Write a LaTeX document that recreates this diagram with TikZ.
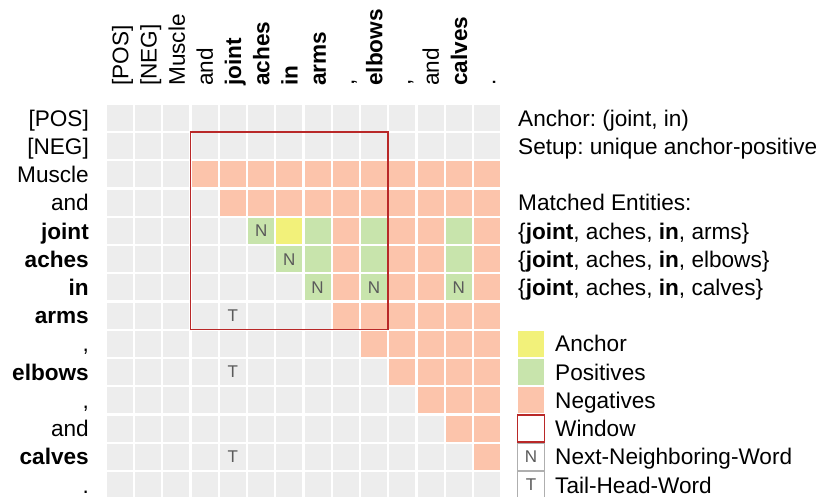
\documentclass[tikz,border=0pt]{standalone}
\usepackage{fontspec}
\setmainfont{Liberation Sans}
\usetikzlibrary{calc}
\definecolor{cellgray}{RGB}{237,237,237}
\definecolor{negc}{RGB}{252,196,171}
\definecolor{posc}{RGB}{200,228,172}
\definecolor{ancc}{RGB}{242,241,122}
\definecolor{winred}{RGB}{185,40,40}
\definecolor{labgray}{RGB}{90,90,90}
\definecolor{legborder}{RGB}{175,175,175}
\newcommand\setcellclr[3]{\expandafter\def\csname clr#1-#2\endcsname{#3}}
\newcommand\setcelllab[3]{\expandafter\def\csname lab#1-#2\endcsname{#3}}
\setcellclr{6}{4}{ancc}
\setcellclr{5}{4}{posc}\setcellclr{7}{4}{posc}\setcellclr{9}{4}{posc}\setcellclr{12}{4}{posc}
\setcellclr{6}{5}{posc}\setcellclr{7}{5}{posc}\setcellclr{9}{5}{posc}\setcellclr{12}{5}{posc}
\setcellclr{7}{6}{posc}\setcellclr{9}{6}{posc}\setcellclr{12}{6}{posc}
\setcelllab{5}{4}{N}\setcelllab{6}{5}{N}\setcelllab{7}{6}{N}\setcelllab{9}{6}{N}\setcelllab{12}{6}{N}
\setcelllab{4}{7}{T}\setcelllab{4}{9}{T}\setcelllab{4}{12}{T}
\newcommand\bigfont{\fontsize{22.6}{27}\selectfont}
\frenchspacing
\begin{document}
\frenchspacing
\begin{tikzpicture}[x=1pt,y=-1pt,
  cell/.style={minimum size=26pt, inner sep=0pt, outer sep=0pt, text=labgray,
    font=\fontsize{17}{18}\selectfont},
  rowlab/.style={anchor=base east, inner sep=0pt, font=\bigfont},
  collab/.style={anchor=base west, rotate=90, inner sep=0pt, font=\bigfont},
  infotext/.style={anchor=base west, inner sep=0pt, font=\bigfont},
  window/.style={draw=winred, line width=1.5pt},
  legsq/.style={minimum size=26pt, inner sep=0pt, outer sep=0pt},
  legbox/.style={legsq, draw=legborder, line width=0.8pt, fill=white, text=labgray,
    font=\fontsize{17}{18}\selectfont}]
\useasboundingbox (0,0) rectangle (821,496);
% grid
\foreach \r in {0,...,13}{
  \foreach \c in {0,...,13}{
    \pgfmathtruncatemacro\isneg{and(\r>1, and(\r<13, \c>\r))}
    \ifnum\isneg=1 \def\fc{negc}\else\def\fc{cellgray}\fi
    \ifcsname clr\c-\r\endcsname \edef\fc{\csname clr\c-\r\endcsname}\fi
    \ifcsname lab\c-\r\endcsname \edef\lb{\csname lab\c-\r\endcsname}\else\def\lb{}\fi
    \node[cell, fill=\fc] (c\c-\r) at ({120+\c*28.23},{118+\r*28.23}) {\lb};
  }
}
% window
\coordinate (wtl) at ($(c3-1.north west)+(-1.1,-1.1)$);
\coordinate (wbr) at ($(c9-7.south east)+(1.1,1.1)$);
\draw[window] (wtl) rectangle (wbr);
% row labels
\foreach \i/\t in {0/{[POS]},1/{[NEG]},2/{Muscle},3/{and},4/{\textbf{joint}},5/{\textbf{aches}},
  6/{\textbf{in}},7/{\textbf{arms}},8/{,},9/{\textbf{elbows}},10/{,},11/{and},12/{\textbf{calves}},13/{.}}{
  \node[rowlab] (r\i) at (89,{126.1+\i*28.23}) {\t};
}
% column labels
\foreach \i/\t in {0/{[POS]},1/{[NEG]},2/{Muscle},3/{and},4/{\textbf{joint}},5/{\textbf{aches}},
  6/{\textbf{in}},7/{\textbf{arms}},8/{,},9/{\textbf{elbows}},10/{,},11/{and},12/{\textbf{calves}},13/{.}}{
  \node[collab] (k\i) at ({128.3+\i*28.23},86) {\t};
}
% info text
\node[infotext] (t0) at (518,{126.1+0*28.23}) {Anchor: (joint, in)};
\node[infotext] (t1) at (518,{126.1+1*28.23}) {Setup: unique anchor-positive};
\node[infotext] (t3) at (518,{126.1+3*28.23}) {Matched Entities:};
\node[infotext] (t4) at (518,{126.1+4*28.23}) {\{\textbf{joint}, aches, \textbf{in}, arms\}};
\node[infotext] (t5) at (518,{126.1+5*28.23}) {\{\textbf{joint}, aches, \textbf{in}, elbows\}};
\node[infotext] (t6) at (518,{126.1+6*28.23}) {\{\textbf{joint}, aches, \textbf{in}, calves\}};
% legend
\node[legsq, fill=ancc] (l8) at (531,{118+8*28.23}) {};
\node[legsq, fill=posc] (l9) at (531,{118+9*28.23}) {};
\node[legsq, fill=negc] (l10) at (531,{118+10*28.23}) {};
\node[legsq, fill=white, draw=winred, line width=1.5pt, minimum size=27pt] (l11) at (531,{118+11*28.23}) {};
\node[legbox, minimum size=27pt] (l12) at (531,{118+12*28.23}) {N};
\node[legbox, minimum size=27pt] (l13) at (531,{118+13*28.23}) {T};
\node[infotext] (e8) at (555,{126.1+8*28.23}) {Anchor};
\node[infotext] (e9) at (555,{126.1+9*28.23}) {Positives};
\node[infotext] (e10) at (555,{126.1+10*28.23}) {Negatives};
\node[infotext] (e11) at (555,{126.1+11*28.23}) {Window};
\node[infotext] (e12) at (555,{126.1+12*28.23}) {Next-Neighboring-Word};
\node[infotext] (e13) at (555,{126.1+13*28.23}) {Tail-Head-Word};
\end{tikzpicture}
\end{document}
